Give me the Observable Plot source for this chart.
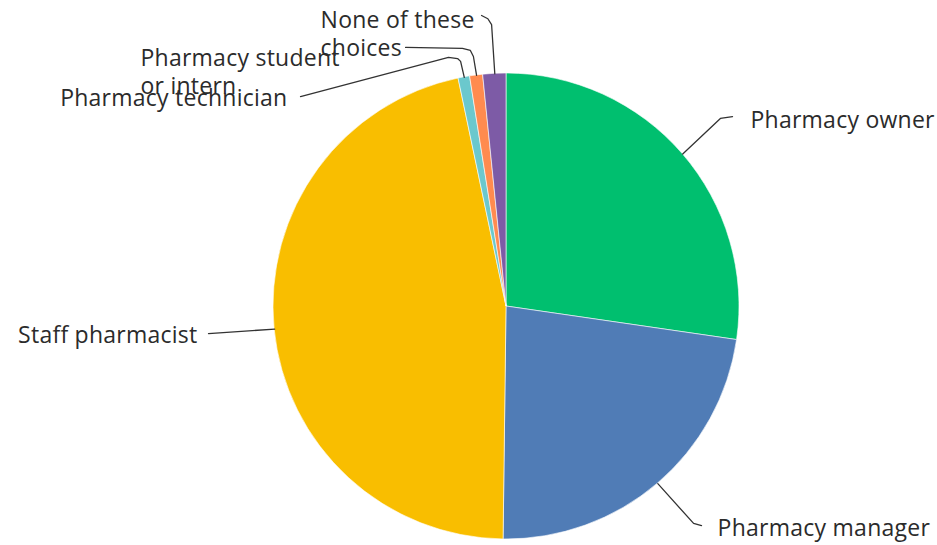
<!DOCTYPE html>
<html><head><meta charset="utf-8">
<script src="https://cdn.jsdelivr.net/npm/d3@7"></script>
<script src="https://cdn.jsdelivr.net/npm/@observablehq/plot@0.6"></script>
<style>html,body{margin:0;padding:0;background:#fff;} svg text{letter-spacing:0.25px;}</style>
</head><body><div id="chart"></div>
<script>
// ---- data ----
const categories = ["Pharmacy owner", "Pharmacy manager", "Staff pharmacist", "Pharmacy technician", "Pharmacy student or intern", "None of these choices"];
const values = [27.3, 22.9, 46.5, 0.8, 0.9, 1.6];
const labelTexts = ["Pharmacy owner", "Pharmacy manager", "Staff pharmacist", "Pharmacy technician", "Pharmacy student\nor intern", "None of these\nchoices"];
const colors = ["#00bf6f", "#507cb6", "#f9be00", "#6bc8cd", "#ff8b4f", "#7d5ba6"];

// ---- label layout (unit coordinates relative to pie, radius = 1) ----
const labelLayout = [
  {anchor: "start", tx: 1.047, ty: 0.803, path: [[0.918, 0.807], [0.970, 0.815]]},
  {anchor: "start", tx: 0.906, ty: -0.948, path: [[0.803, -0.931], [0.837, -0.940]]},
  {anchor: "end", tx: -1.326, ty: -0.120, path: [[-1.279, -0.116]]},
  {anchor: "end", tx: -0.940, ty: 0.897, path: [[-0.197, 1.052], [-0.210, 1.064], [-0.249, 1.069], [-0.884, 0.901]]},
  {anchor: "start", tx: -1.571, ty: 1.009, path: [[-0.142, 1.073], [-0.155, 1.099], [-0.189, 1.108], [-0.433, 1.112]]},
  {anchor: "start", tx: -0.798, ty: 1.174, path: [[-0.064, 1.210], [-0.080, 1.235], [-0.107, 1.249]]}
];

const data = categories.map((c, i) => ({category: c, value: values[i], label: labelTexts[i], color: colors[i], ...labelLayout[i]}));
const arcs = d3.pie().sort(null).value(d => d.value)(data);
arcs.forEach((a, i) => { const m = (a.startAngle + a.endAngle) / 2; data[i].sx = Math.sin(m); data[i].sy = Math.cos(m); });

const leaderData = data.flatMap((d, i) => [[d.sx, d.sy], ...d.path].map(([x, y]) => ({x, y, i})));

function pieMark(index, scales, values, dimensions, context) {
  const cx = scales.x(0), cy = scales.y(0);
  const r = Math.abs(scales.x(1) - scales.x(0));
  const arc = d3.arc().innerRadius(0).outerRadius(r);
  const g = d3.create("svg:g").attr("transform", `translate(${cx},${cy})`);
  g.selectAll("path").data(arcs).join("path")
    .attr("d", arc)
    .attr("fill", d => d.data.color)
    .attr("stroke", "#fff")
    .attr("stroke-width", 0.6);
  return g.node();
}

const textOpts = {x: "tx", y: "ty", text: "label", lineAnchor: "middle", fontSize: 23, fontWeight: 500, lineHeight: 1.2, fill: "#2b2b2b"};

const plot = Plot.plot({
  width: 937,
  height: 545,
  margin: 0,
  x: {domain: [-1, 1], range: [273, 739], axis: null},
  y: {domain: [-1, 1], range: [539, 73], axis: null},
  style: {fontFamily: "'Open Sans', sans-serif", background: "#fff", overflow: "visible"},
  marks: [
    pieMark,
    Plot.line(leaderData, {x: "x", y: "y", z: "i", stroke: "#333", strokeWidth: 1.3, curve: "linear"}),
    Plot.text(data.filter(d => d.anchor === "start"), {...textOpts, textAnchor: "start"}),
    Plot.text(data.filter(d => d.anchor === "end"), {...textOpts, textAnchor: "end"})
  ]
});
document.getElementById("chart").appendChild(plot);
</script>
</body></html>
